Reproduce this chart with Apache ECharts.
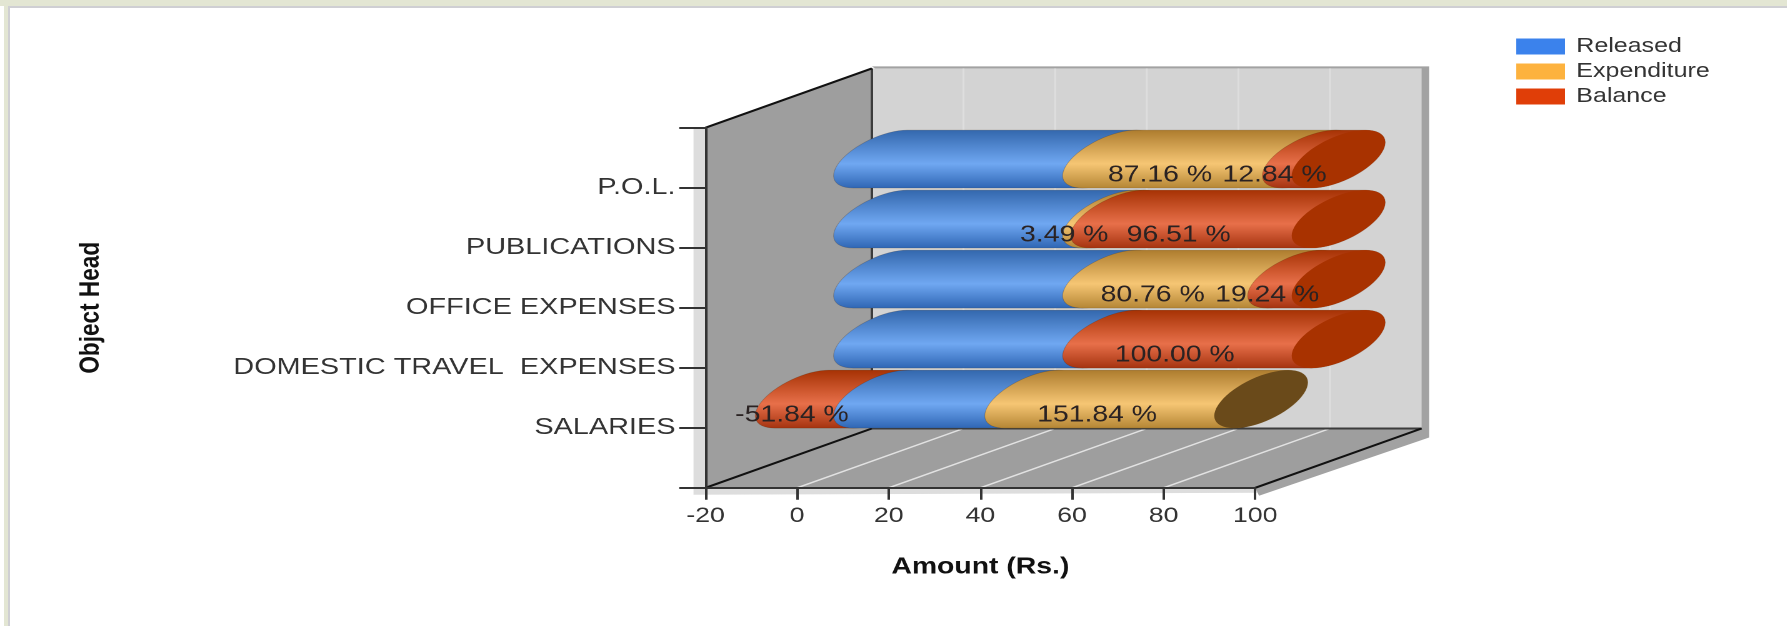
<!DOCTYPE html>
<html>
<head>
<meta charset="utf-8">
<style>
html,body{margin:0;padding:0;background:#fff;overflow:hidden;width:1787px;height:626px}
.b{position:absolute}
#chart{position:absolute;left:0;top:0;width:1429.6px;height:626px;transform:scaleX(1.25);transform-origin:0 0;filter:blur(0.5px)}
</style>
<script src="https://cdn.jsdelivr.net/npm/echarts@6/dist/echarts.min.js"></script>
</head>
<body>
<div class="b" style="left:0;top:0;width:1787px;height:6px;background:#e3e6d3"></div>
<div class="b" style="left:4px;top:0;width:4px;height:626px;background:#e3e6d3"></div>
<div class="b" style="left:8px;top:6px;width:2px;height:620px;background:#cfcfd3"></div>
<div class="b" style="left:8px;top:6px;width:1779px;height:2px;background:#cfcfd3"></div>
<div id="chart"></div>
<script>
// Category labels, bottom to top; the blank ends are the axis's outer tick marks
var yLabels = ['', 'SALARIES', 'DOMESTIC TRAVEL  EXPENSES', 'OFFICE EXPENSES', 'PUBLICATIONS', 'P.O.L.', ''];
var xTicks = [-20, 0, 20, 40, 60, 80, 100];
// Values per category, bottom to top (SALARIES ... P.O.L.)
var released    = [33, 50, 50, 50, 50];
var expenditure = [50.1, 0, 40.38, 1.75, 43.58];
var balance     = [-17.1, 50, 9.62, 48.25, 6.42];
var expenditurePct = ['151.84 %', '', '80.76 %', '3.49 %', '87.16 %'];
var balancePct     = ['-51.84 %', '100.00 %', '19.24 %', '96.51 %', '12.84 %'];

var DX = 133.1, DY = 59.3;          // depth of the 3D box
var EX = 37.4, EH = 23.7;           // cylinder cross-section
var ESHEAR = EX * DY / DX;
var T0 = Math.atan2(ESHEAR, EH);
var LABEL_DX = 27.2, LABEL_DY = -12.5;
var FONT = '"Liberation Sans", Arial, sans-serif';

var palette = {
  Released:    {legend:'#3b82ec', stops:['#3367ad','#70a8f2','#2f66b4'], cap:'#2a5596'},
  Expenditure: {legend:'#fdb23e', stops:['#ad7c2e','#f6c674','#b58635'], cap:'#6a4a1a'},
  Balance:     {legend:'#e03e08', stops:['#a63204','#e8704a','#a53310'], cap:'#a83200'}
};

function ellipsePts(cx, cy, from, to, n) {
  var pts = [];
  for (var i = 0; i <= n; i++) {
    var t = from + (to - from) * i / n;
    pts.push([cx + EX * Math.sin(t), cy - EH * Math.cos(t) - ESHEAR * Math.sin(t)]);
  }
  return pts;
}
function segments(name, values) {
  var rows = [];
  values.forEach(function (v, i) {
    var r = released[i], e = expenditure[i], b = balance[i], start, end, cap = 0;
    if (name === 'Released') { start = 0; end = r; }
    if (name === 'Expenditure') { start = r; end = r + e; cap = b < 0 ? 1 : 0; }
    if (name === 'Balance') {
      if (b < 0) { start = 0; end = b; }
      else { start = r + e; end = r + e + b; cap = 1; }
    }
    rows.push([i + 1, start, end, cap, b < 0 && name === 'Balance' ? 1 : 0]);
  });
  return rows;
}
function barSeries(name, values, pct, order) {
  var pal = palette[name];
  return {
    name: name, type: 'custom', coordinateSystem: 'cartesian2d',
    data: segments(name, values), encode: {x: [1, 2], y: 0},
    itemStyle: {color: pal.legend}, z: 3,
    renderItem: function (params, api) {
      var cat = api.value(0), s = api.value(1), e = api.value(2), cap = api.value(3), under = api.value(4);
      if (s === e) return {type: 'group', children: []};
      var a = api.coord([s, cat]), b = api.coord([e, cat]);
      var cyy = a[1] - DY / 2 + 1;
      var ca = a[0] + DX / 2, cb = b[0] + DX / 2;
      var lo = Math.min(ca, cb), hi = Math.max(ca, cb);
      var pts = ellipsePts(hi, cyy, T0, T0 + Math.PI, 30).concat(ellipsePts(lo, cyy, T0 + Math.PI, T0 + 2 * Math.PI, 30));
      var z = under ? 5 : 10 + order;
      var kids = [{
        type: 'polygon', shape: {points: pts}, z2: z,
        style: {
          fill: {type: 'linear', x: 0, y: 0, x2: 0, y2: 1, colorStops: [
            {offset: 0, color: pal.stops[0]}, {offset: 0.58, color: pal.stops[1]}, {offset: 1, color: pal.stops[2]}]},
          stroke: 'rgba(60,30,0,0.25)', lineWidth: 0.6
        }
      }];
      if (cap) {
        kids.push({type: 'polygon', z2: z + 1,
          shape: {points: ellipsePts(cb, cyy, 0, Math.PI * 2, 60)},
          style: {fill: pal.cap}});
      }
      var txt = pct && pct[params.dataIndex];
      if (txt) {
        kids.push({type: 'text', z2: 100, style: {
          text: txt, x: (a[0] + b[0]) / 2 + LABEL_DX, y: a[1] + LABEL_DY,
          align: 'center', verticalAlign: 'middle',
          font: '22.7px ' + FONT, fill: '#2a2222'}});
      }
      return {type: 'group', children: kids};
    }
  };
}
var wallSeries = {
  type: 'custom', coordinateSystem: 'cartesian2d', z: -1, silent: true, data: [[0, -20]],
  encode: {x: 1, y: 0},
  renderItem: function (params, api) {
    var xMin = xTicks[0], xMax = xTicks[xTicks.length - 1], top = yLabels.length - 1;
    var bl = api.coord([xMin, 0]), br = api.coord([xMax, 0]), tl = api.coord([xMin, top]);
    var bk = function (p) { return [p[0] + DX, p[1] - DY]; };
    var bbl = bk(bl), bbr = bk(br), btl = bk(tl), btr = [bbr[0], btl[1]];
    var poly = function (points, fill) { return {type: 'polygon', shape: {points: points}, style: {fill: fill}}; };
    var line = function (p, q, c, w) {
      return {type: 'line', shape: {x1: p[0], y1: p[1], x2: q[0], y2: q[1]}, style: {stroke: c, lineWidth: w}};
    };
    var kids = [
      poly([[tl[0] - 9.6, tl[1]], tl, [br[0] + 1, br[1]], [br[0] + 8, br[1] + 5], [bl[0] - 9.6, bl[1] + 7]], '#dddddd'),
      poly([[btl[0], btl[1] - 2], [btr[0] + 6, btl[1] - 2], [bbr[0] + 6, bbr[1] + 9], [br[0] + 3, br[1] + 8], br, bbr], '#a2a2a2'),
      poly([btl, btr, bbr, bbl], '#d3d3d3'),
      poly([tl, btl, bbl, bl], '#9e9e9e'),
      poly([bl, br, bbr, bbl], '#9e9e9e')
    ];
    xTicks.slice(1, -1).forEach(function (v) {
      var f = api.coord([v, 0]), b = bk(f);
      kids.push(line(f, b, '#e2e2e2', 1.5));
      kids.push(line(b, [b[0], btl[1]], '#dedede', 1.5));
    });
    kids.push(line(btl, bbl, '#3c3c3c', 2));
    kids.push(line(bbl, bbr, '#3c3c3c', 2));
    kids.push(line(tl, btl, '#111', 2));
    kids.push(line(bl, bbl, '#111', 2));
    kids.push(line(br, bbr, '#111', 2));
    return {type: 'group', children: kids};
  }
};

var chart = echarts.init(document.getElementById('chart'), null, {devicePixelRatio: 2});
chart.setOption({
  animation: false,
  backgroundColor: 'transparent',
  legend: {
    data: ['Released', 'Expenditure', 'Balance'], orient: 'vertical', left: 1208, top: 31.5,
    icon: 'rect', itemWidth: 39, itemHeight: 16, itemGap: 5, selectedMode: false,
    textStyle: {fontFamily: FONT, fontSize: 20, color: '#333', padding: [0, 0, 0, 4]}
  },
  grid: {left: 564.4, right: 425.8, top: 127.7, bottom: 138.2},
  xAxis: {
    type: 'value', min: -20, max: 100, interval: 20, splitLine: {show: false},
    axisLine: {show: true, onZero: false, lineStyle: {color: '#333', width: 2}},
    axisTick: {show: true, length: 12, lineStyle: {color: '#333', width: 2}},
    axisLabel: {fontFamily: FONT, fontSize: 21.3, color: '#333', margin: 18, showMinLabel: true, showMaxLabel: true},
    name: 'Amount (Rs.)', nameLocation: 'middle', nameGap: 68,
    nameTextStyle: {fontFamily: FONT, fontSize: 22.7, fontWeight: 'bold', color: '#111'}
  },
  yAxis: {
    type: 'category', data: yLabels, boundaryGap: false,
    axisLine: {show: true, onZero: false, lineStyle: {color: '#333', width: 2}},
    axisTick: {show: true, length: 21, interval: 0, alignWithLabel: true, lineStyle: {color: '#333', width: 2}},
    axisLabel: {fontFamily: FONT, fontSize: 23.1, color: '#333', margin: 24, interval: 0, padding: [6, 0, 0, 0]},
    splitLine: {show: false},
    name: 'Object Head', nameLocation: 'middle', nameGap: 480, nameRotate: 90,
    nameTextStyle: {fontFamily: FONT, fontSize: 22.6, fontWeight: 'bold', color: '#111'}
  },
  series: [
    wallSeries,
    barSeries('Released', released, null, 0),
    barSeries('Expenditure', expenditure, expenditurePct, 2),
    barSeries('Balance', balance, balancePct, 4)
  ]
});
</script>
</body>
</html>
